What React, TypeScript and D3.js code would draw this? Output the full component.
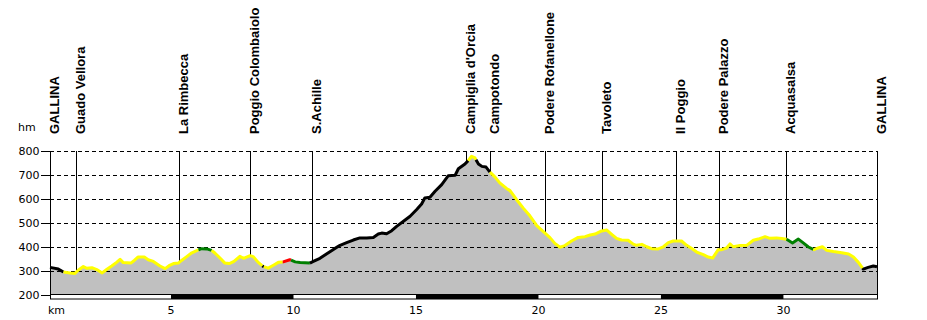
import React from "react";
import * as d3 from "d3";

const kms = [
  0.06, 0.40, 0.61, 0.88, 1.08, 1.21, 1.42, 1.56, 1.77, 1.97, 2.19, 2.37, 2.58, 2.79, 2.92, 3.05, 3.36, 3.50, 3.65, 3.91,
  4.07, 4.28, 4.55, 4.76, 4.92, 5.10, 5.30, 5.43, 5.64, 5.85, 6.05, 6.25, 6.46, 6.66, 6.79, 7.00, 7.20, 7.38, 7.57, 7.81,
  7.96, 8.23, 8.36, 8.56, 8.76, 8.97, 9.18, 9.38, 9.58, 9.85, 10.07, 10.27, 10.67, 10.81, 11.08, 11.36, 11.63, 11.90, 12.17, 12.44,
  12.71, 12.99, 13.26, 13.46, 13.60, 13.80, 14.01, 14.21, 14.49, 14.76, 15.03, 15.23, 15.36, 15.57, 15.78, 16.05, 16.32, 16.60, 16.73, 17.00,
  17.13, 17.27, 17.41, 17.55, 17.69, 17.86, 18.02, 18.22, 18.42, 18.71, 18.84, 19.11, 19.38, 19.65, 19.93, 20.20, 20.47, 20.67, 20.88, 21.08,
  21.35, 21.62, 21.90, 22.11, 22.31, 22.58, 22.78, 22.99, 23.19, 23.39, 23.66, 23.87, 24.00, 24.22, 24.42, 24.62, 24.89, 25.10, 25.30, 25.50,
  25.84, 26.05, 26.26, 26.46, 26.73, 26.93, 27.11, 27.34, 27.48, 27.68, 27.82, 27.95, 28.23, 28.50, 28.77, 28.97, 29.25, 29.45, 29.72, 29.93,
  30.13, 30.37, 30.61, 30.81, 31.02, 31.25, 31.42, 31.59, 31.77, 32.04, 32.38, 32.66, 32.86, 33.06, 33.26, 33.46, 33.67, 33.82,
];

const elevations = [
  315, 308, 296, 292, 290, 303, 319, 311, 314, 306, 292, 306, 321, 337, 349, 335, 333, 344, 358, 358,
  347, 340, 321, 310, 322, 331, 333, 344, 360, 376, 385, 393, 392, 386, 375, 354, 333, 331, 340, 361,
  353, 364, 360, 336, 319, 312, 324, 336, 338, 347, 338, 335, 333, 340, 353, 372, 390, 407, 418, 429,
  438, 438, 440, 454, 458, 455, 468, 486, 507, 528, 556, 579, 604, 607, 632, 660, 697, 699, 726, 746,
  760, 778, 771, 746, 736, 733, 712, 692, 667, 643, 635, 597, 562, 530, 489, 464, 439, 415, 399, 406,
  425, 440, 443, 450, 454, 467, 471, 453, 436, 429, 428, 412, 407, 411, 401, 393, 392, 401, 418, 425,
  425, 407, 394, 379, 368, 358, 354, 389, 389, 396, 413, 401, 406, 407, 428, 433, 443, 436, 438, 435,
  432, 417, 433, 417, 400, 389, 396, 401, 386, 381, 376, 371, 358, 336, 308, 315, 321, 318,
];

const segStart = [0.06, 0.61, 6.12, 6.66, 8.73, 8.79, 9.56, 9.9, 10.67, 17.13, 17.45, 18.02, 30.13, 31.22, 33.23];
const segEnd = [0.61, 6.12, 6.66, 8.73, 8.79, 9.56, 9.9, 10.67, 17.13, 17.45, 18.02, 30.13, 31.22, 33.23, 33.82];
const segColor = ["#000000", "#ffff00", "#008000", "#ffff00", "#000000", "#ffff00", "#ff0000", "#008000", "#000000", "#ffff00", "#000000", "#ffff00", "#008000", "#ffff00", "#000000"];

const placeNames = [
  "GALLINA", "Guado Vellora", "La Rimbecca", "Poggio Colombaiolo", "S.Achille", "Campiglia d'Orcia", "Campotondo",
  "Podere Rofanellone", "Tavoleto", "Il Poggio", "Podere Palazzo", "Acquasalsa", "GALLINA",
];
const placeKm = [0.06, 1.11, 5.31, 8.24, 10.77, 17.03, 18.03, 20.27, 22.58, 25.6, 27.37, 30.11, 33.82];

const yTicks = [200, 300, 400, 500, 600, 700, 800];
const xTicks = [5, 10, 15, 20, 25, 30];
const bandStarts = [5, 15, 25];

export default function App() {
  const x = d3.scaleLinear().domain([0.06, 33.82]).range([50, 877]);
  const y = d3.scaleLinear().domain([200, 800]).range([295, 151]);
  const data = kms.map((k, i) => [k, elevations[i]] as [number, number]);
  const bis = d3.bisector((d: [number, number]) => d[0]).left;
  const interp = (k: number) => {
    const i = bis(data, k);
    if (i <= 0) return data[0][1];
    if (i >= data.length) return data[data.length - 1][1];
    const a = data[i - 1], b = data[i];
    const t = (k - a[0]) / (b[0] - a[0]);
    return a[1] + t * (b[1] - a[1]);
  };
  const area = d3.area<[number, number]>().x((d) => x(d[0])).y0(y(200)).y1((d) => y(d[1]));
  const line = d3.line<[number, number]>().x((d) => x(d[0])).y((d) => y(d[1]));
  const sans = "'DejaVu Sans', Verdana, sans-serif";
  const bold = "'Liberation Sans', Arial, sans-serif";

  return (
    <svg width={927} height={320} style={{ position: "absolute", left: 0, top: 0, background: "#fff" }}>
      <path d={area(data) || ""} fill="#c0c0c0" />
      {yTicks.filter((t) => t > 200).map((t) => (
        <line key={"g" + t} x1={50} x2={877} y1={y(t) + 0.5} y2={y(t) + 0.5} stroke="#000" strokeDasharray="4 3" />
      ))}
      {placeKm.map((k, i) => (
        <line key={"v" + i} x1={Math.round(x(k)) + 0.5} x2={Math.round(x(k)) + 0.5} y1={151} y2={y(interp(k))} stroke="#000" />
      ))}
      {segStart.map((a, i) => {
        const b = segEnd[i];
        const pts: [number, number][] = [[a, interp(a)], ...data.filter((d) => d[0] > a && d[0] < b), [b, interp(b)]];
        return <path key={"s" + i} d={line(pts) || ""} fill="none" stroke={segColor[i]} strokeWidth={3} strokeLinejoin="round" />;
      })}
      <line x1={50.5} x2={50.5} y1={151} y2={299} stroke="#000" />
      <line x1={877.5} x2={877.5} y1={151} y2={299} stroke="#000" />
      {yTicks.map((t) => (
        <g key={"t" + t}>
          <line x1={41} x2={50} y1={y(t) + 0.5} y2={y(t) + 0.5} stroke="#000" />
          <text x={39.5} y={y(t) + 4} textAnchor="end" fontFamily={sans} fontSize={11} fill="#000">{t}</text>
        </g>
      ))}
      <text x={18} y={131} fontFamily={sans} fontSize={11} fill="#000">hm</text>
      <rect x={50.5} y={294.5} width={827} height={4.5} fill="#fff" stroke="#000" />
      {bandStarts.map((s) => (
        <rect key={"b" + s} x={x(s)} y={294.5} width={x(s + 5) - x(s)} height={4.5} fill="#000" />
      ))}
      <text x={48} y={314} fontFamily={sans} fontSize={11} fill="#000">km</text>
      {xTicks.map((t) => (
        <text key={"x" + t} x={x(t)} y={314} textAnchor="middle" fontFamily={sans} fontSize={11} fill="#000">{t}</text>
      ))}
      {placeKm.map((k, i) => (
        <text key={"p" + i} transform={`translate(${Math.round(x(k)) + 9},134) rotate(-90)`} fontFamily={bold} fontWeight="bold" fontSize={13} fill="#000">
          {placeNames[i]}
        </text>
      ))}
    </svg>
  );
}
